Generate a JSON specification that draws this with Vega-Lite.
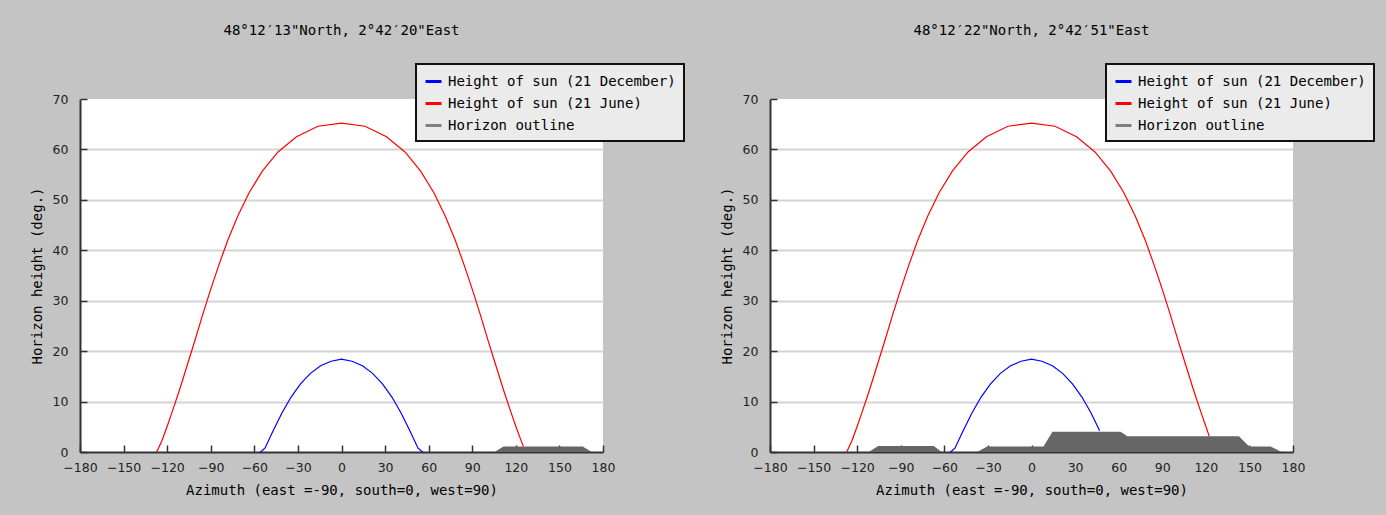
{
  "$schema": "https://vega.github.io/schema/vega-lite/v6.json",
  "background": "#c4c4c4",
  "padding": {"left": 30, "top": 24, "right": 13, "bottom": 19},
  "spacing": 167,
  "bounds": "flush",
  "datasets": {
    "sun_a": [
      {"series": "Height of sun (21 June)", "az": -127.2, "h": 0},
      {"series": "Height of sun (21 June)", "az": -123.7, "h": 2.2},
      {"series": "Height of sun (21 June)", "az": -120.1, "h": 5.0},
      {"series": "Height of sun (21 June)", "az": -116.5, "h": 8.0},
      {"series": "Height of sun (21 June)", "az": -111.3, "h": 12.5},
      {"series": "Height of sun (21 June)", "az": -106.1, "h": 17.3},
      {"series": "Height of sun (21 June)", "az": -100.9, "h": 22.1},
      {"series": "Height of sun (21 June)", "az": -95.7, "h": 27.1},
      {"series": "Height of sun (21 June)", "az": -90.2, "h": 32.1},
      {"series": "Height of sun (21 June)", "az": -84.5, "h": 37.0},
      {"series": "Height of sun (21 June)", "az": -78.3, "h": 42.0},
      {"series": "Height of sun (21 June)", "az": -71.4, "h": 46.8},
      {"series": "Height of sun (21 June)", "az": -63.6, "h": 51.4},
      {"series": "Height of sun (21 June)", "az": -54.5, "h": 55.7},
      {"series": "Height of sun (21 June)", "az": -43.7, "h": 59.5},
      {"series": "Height of sun (21 June)", "az": -31.0, "h": 62.5},
      {"series": "Height of sun (21 June)", "az": -16.2, "h": 64.6},
      {"series": "Height of sun (21 June)", "az": 0, "h": 65.2},
      {"series": "Height of sun (21 June)", "az": 16.2, "h": 64.6},
      {"series": "Height of sun (21 June)", "az": 31.0, "h": 62.5},
      {"series": "Height of sun (21 June)", "az": 43.7, "h": 59.5},
      {"series": "Height of sun (21 June)", "az": 54.5, "h": 55.7},
      {"series": "Height of sun (21 June)", "az": 63.6, "h": 51.4},
      {"series": "Height of sun (21 June)", "az": 71.4, "h": 46.8},
      {"series": "Height of sun (21 June)", "az": 78.3, "h": 42.0},
      {"series": "Height of sun (21 June)", "az": 84.5, "h": 37.0},
      {"series": "Height of sun (21 June)", "az": 90.2, "h": 32.1},
      {"series": "Height of sun (21 June)", "az": 95.7, "h": 27.1},
      {"series": "Height of sun (21 June)", "az": 100.9, "h": 22.1},
      {"series": "Height of sun (21 June)", "az": 106.1, "h": 17.3},
      {"series": "Height of sun (21 June)", "az": 111.3, "h": 12.5},
      {"series": "Height of sun (21 June)", "az": 116.5, "h": 8.0},
      {"series": "Height of sun (21 June)", "az": 120.1, "h": 5.0},
      {"series": "Height of sun (21 June)", "az": 123.7, "h": 2.2},
      {"series": "Height of sun (21 June)", "az": 125.2, "h": 1.1},
      {"series": "Height of sun (21 December)", "az": -56.0, "h": 0},
      {"series": "Height of sun (21 December)", "az": -54.5, "h": 0.3},
      {"series": "Height of sun (21 December)", "az": -52.6, "h": 0.8},
      {"series": "Height of sun (21 December)", "az": -46.9, "h": 4.3},
      {"series": "Height of sun (21 December)", "az": -40.9, "h": 7.8},
      {"series": "Height of sun (21 December)", "az": -34.7, "h": 10.9},
      {"series": "Height of sun (21 December)", "az": -28.2, "h": 13.5},
      {"series": "Height of sun (21 December)", "az": -21.4, "h": 15.6},
      {"series": "Height of sun (21 December)", "az": -14.4, "h": 17.1},
      {"series": "Height of sun (21 December)", "az": -7.2, "h": 18.0},
      {"series": "Height of sun (21 December)", "az": 0, "h": 18.4},
      {"series": "Height of sun (21 December)", "az": 7.2, "h": 18.0},
      {"series": "Height of sun (21 December)", "az": 14.4, "h": 17.1},
      {"series": "Height of sun (21 December)", "az": 21.4, "h": 15.6},
      {"series": "Height of sun (21 December)", "az": 28.2, "h": 13.5},
      {"series": "Height of sun (21 December)", "az": 34.7, "h": 10.9},
      {"series": "Height of sun (21 December)", "az": 40.9, "h": 7.8},
      {"series": "Height of sun (21 December)", "az": 46.9, "h": 4.3},
      {"series": "Height of sun (21 December)", "az": 52.6, "h": 0.8},
      {"series": "Height of sun (21 December)", "az": 54.5, "h": 0.3},
      {"series": "Height of sun (21 December)", "az": 56.0, "h": 0}
    ],
    "sun_b": [
      {"series": "Height of sun (21 June)", "az": -127.2, "h": 0},
      {"series": "Height of sun (21 June)", "az": -123.7, "h": 2.2},
      {"series": "Height of sun (21 June)", "az": -120.1, "h": 5.0},
      {"series": "Height of sun (21 June)", "az": -116.5, "h": 8.0},
      {"series": "Height of sun (21 June)", "az": -111.3, "h": 12.5},
      {"series": "Height of sun (21 June)", "az": -106.1, "h": 17.3},
      {"series": "Height of sun (21 June)", "az": -100.9, "h": 22.1},
      {"series": "Height of sun (21 June)", "az": -95.7, "h": 27.1},
      {"series": "Height of sun (21 June)", "az": -90.2, "h": 32.1},
      {"series": "Height of sun (21 June)", "az": -84.5, "h": 37.0},
      {"series": "Height of sun (21 June)", "az": -78.3, "h": 42.0},
      {"series": "Height of sun (21 June)", "az": -71.4, "h": 46.8},
      {"series": "Height of sun (21 June)", "az": -63.6, "h": 51.4},
      {"series": "Height of sun (21 June)", "az": -54.5, "h": 55.7},
      {"series": "Height of sun (21 June)", "az": -43.7, "h": 59.5},
      {"series": "Height of sun (21 June)", "az": -31.0, "h": 62.5},
      {"series": "Height of sun (21 June)", "az": -16.2, "h": 64.6},
      {"series": "Height of sun (21 June)", "az": 0, "h": 65.2},
      {"series": "Height of sun (21 June)", "az": 16.2, "h": 64.6},
      {"series": "Height of sun (21 June)", "az": 31.0, "h": 62.5},
      {"series": "Height of sun (21 June)", "az": 43.7, "h": 59.5},
      {"series": "Height of sun (21 June)", "az": 54.5, "h": 55.7},
      {"series": "Height of sun (21 June)", "az": 63.6, "h": 51.4},
      {"series": "Height of sun (21 June)", "az": 71.4, "h": 46.8},
      {"series": "Height of sun (21 June)", "az": 78.3, "h": 42.0},
      {"series": "Height of sun (21 June)", "az": 84.5, "h": 37.0},
      {"series": "Height of sun (21 June)", "az": 90.2, "h": 32.1},
      {"series": "Height of sun (21 June)", "az": 95.7, "h": 27.1},
      {"series": "Height of sun (21 June)", "az": 100.9, "h": 22.1},
      {"series": "Height of sun (21 June)", "az": 106.1, "h": 17.3},
      {"series": "Height of sun (21 June)", "az": 111.3, "h": 12.5},
      {"series": "Height of sun (21 June)", "az": 116.5, "h": 8.0},
      {"series": "Height of sun (21 June)", "az": 120.1, "h": 5.0},
      {"series": "Height of sun (21 June)", "az": 122.4, "h": 3.1},
      {"series": "Height of sun (21 December)", "az": -56.0, "h": 0},
      {"series": "Height of sun (21 December)", "az": -54.5, "h": 0.3},
      {"series": "Height of sun (21 December)", "az": -52.6, "h": 0.8},
      {"series": "Height of sun (21 December)", "az": -46.9, "h": 4.3},
      {"series": "Height of sun (21 December)", "az": -40.9, "h": 7.8},
      {"series": "Height of sun (21 December)", "az": -34.7, "h": 10.9},
      {"series": "Height of sun (21 December)", "az": -28.2, "h": 13.5},
      {"series": "Height of sun (21 December)", "az": -21.4, "h": 15.6},
      {"series": "Height of sun (21 December)", "az": -14.4, "h": 17.1},
      {"series": "Height of sun (21 December)", "az": -7.2, "h": 18.0},
      {"series": "Height of sun (21 December)", "az": 0, "h": 18.4},
      {"series": "Height of sun (21 December)", "az": 7.2, "h": 18.0},
      {"series": "Height of sun (21 December)", "az": 14.4, "h": 17.1},
      {"series": "Height of sun (21 December)", "az": 21.4, "h": 15.6},
      {"series": "Height of sun (21 December)", "az": 28.2, "h": 13.5},
      {"series": "Height of sun (21 December)", "az": 34.7, "h": 10.9},
      {"series": "Height of sun (21 December)", "az": 40.9, "h": 7.8},
      {"series": "Height of sun (21 December)", "az": 46.9, "h": 4.2}
    ],
    "horizon_a": [
      {"az": 105.4, "h": 0},
      {"az": 111.5, "h": 1.1},
      {"az": 166.0, "h": 1.1},
      {"az": 172.3, "h": 0}
    ],
    "horizon_b": [
      {"az": -112.0, "h": 0},
      {"az": -105.5, "h": 1.2},
      {"az": -67.3, "h": 1.2},
      {"az": -61.8, "h": 0},
      {"az": -37.5, "h": 0},
      {"az": -30.5, "h": 1.1},
      {"az": 8.3, "h": 1.1},
      {"az": 14.4, "h": 4.0},
      {"az": 61.3, "h": 4.0},
      {"az": 66.0, "h": 3.1},
      {"az": 142.8, "h": 3.1},
      {"az": 149.8, "h": 1.1},
      {"az": 164.6, "h": 1.1},
      {"az": 172.2, "h": 0}
    ]
  },
  "config": {
    "view": {"fill": "white", "stroke": null},
    "title": {"font": "DejaVu Sans Mono", "fontSize": 14, "fontWeight": "normal", "color": "black", "anchor": "middle", "frame": "group"},
    "axis": {
      "labelFont": "DejaVu Sans", "labelFontSize": 12.5, "labelColor": "#222",
      "titleFont": "DejaVu Sans Mono", "titleFontSize": 14, "titleFontWeight": "normal", "titleColor": "black",
      "domainColor": "#333", "domainWidth": 2, "tickColor": "#333", "tickWidth": 1.5,
      "labelFlush": false
    },
    "legend": {
      "orient": "none", "legendX": 336, "legendY": -35,
      "fillColor": "#ebebeb", "strokeColor": "#111", "strokeWidth": 2,
      "padding": 8, "rowPadding": 5,
      "symbolType": "stroke", "symbolStrokeWidth": 3, "symbolSize": 256,
      "labelFont": "DejaVu Sans Mono", "labelFontSize": 14, "labelColor": "black", "labelOffset": 5, "labelLimit": 0
    }
  },
  "resolve": {"scale": {"color": "independent"}, "legend": {"color": "independent"}},
  "hconcat": [
    {
      "width": 523,
      "height": 353,
      "title": {"text": "48°12′13\"North, 2°42′20\"East", "offset": 25},
      "layer": [
        {
          "data": {"name": "horizon_a"},
          "mark": {"type": "area", "color": "#666666", "interpolate": "linear"},
          "encoding": {
            "x": {"field": "az", "type": "quantitative", "scale": {"domain": [-180, 180], "nice": false},
              "axis": {"title": "Azimuth (east =-90, south=0, west=90)", "values": [-180,-150,-120,-90,-60,-30,0,30,60,90,120,150,180], "grid": false, "tickSize": -7, "labelPadding": 16, "titlePadding": 10}},
            "y": {"field": "h", "type": "quantitative", "stack": null, "scale": {"domain": [0, 70], "nice": false},
              "axis": {"title": "Horizon height (deg.)", "values": [0,5,10,15,20,25,30,35,40,45,50,55,60,65,70],
                "labelExpr": "datum.value % 10 === 0 ? datum.label : ''", "tickSize": -7, "labelPadding": 19, "titlePadding": 8,
                "grid": true, "gridColor": "#d3d3d3", "gridWidth": 2,
                "gridOpacity": {"condition": {"test": "datum.value % 10 === 0 && datum.value > 0 && datum.value < 70", "value": 1}, "value": 0}}}
          }
        },
        {
          "data": {"name": "sun_a"},
          "mark": {"type": "line", "strokeWidth": 1.2},
          "encoding": {
            "x": {"field": "az", "type": "quantitative"},
            "y": {"field": "h", "type": "quantitative"},
            "color": {"field": "series", "type": "nominal",
              "scale": {"domain": ["Height of sun (21 December)", "Height of sun (21 June)", "Horizon outline"], "range": ["#0000ff", "#ff0000", "#808080"]},
              "legend": {"title": null}}
          }
        }
      ]
    },
    {
      "width": 523,
      "height": 353,
      "title": {"text": "48°12′22\"North, 2°42′51\"East", "offset": 25},
      "layer": [
        {
          "data": {"name": "horizon_b"},
          "mark": {"type": "area", "color": "#666666", "interpolate": "linear"},
          "encoding": {
            "x": {"field": "az", "type": "quantitative", "scale": {"domain": [-180, 180], "nice": false},
              "axis": {"title": "Azimuth (east =-90, south=0, west=90)", "values": [-180,-150,-120,-90,-60,-30,0,30,60,90,120,150,180], "grid": false, "tickSize": -7, "labelPadding": 16, "titlePadding": 10}},
            "y": {"field": "h", "type": "quantitative", "stack": null, "scale": {"domain": [0, 70], "nice": false},
              "axis": {"title": "Horizon height (deg.)", "values": [0,5,10,15,20,25,30,35,40,45,50,55,60,65,70],
                "labelExpr": "datum.value % 10 === 0 ? datum.label : ''", "tickSize": -7, "labelPadding": 19, "titlePadding": 8,
                "grid": true, "gridColor": "#d3d3d3", "gridWidth": 2,
                "gridOpacity": {"condition": {"test": "datum.value % 10 === 0 && datum.value > 0 && datum.value < 70", "value": 1}, "value": 0}}}
          }
        },
        {
          "data": {"name": "sun_b"},
          "mark": {"type": "line", "strokeWidth": 1.2},
          "encoding": {
            "x": {"field": "az", "type": "quantitative"},
            "y": {"field": "h", "type": "quantitative"},
            "color": {"field": "series", "type": "nominal",
              "scale": {"domain": ["Height of sun (21 December)", "Height of sun (21 June)", "Horizon outline"], "range": ["#0000ff", "#ff0000", "#808080"]},
              "legend": {"title": null}}
          }
        }
      ]
    }
  ]
}
